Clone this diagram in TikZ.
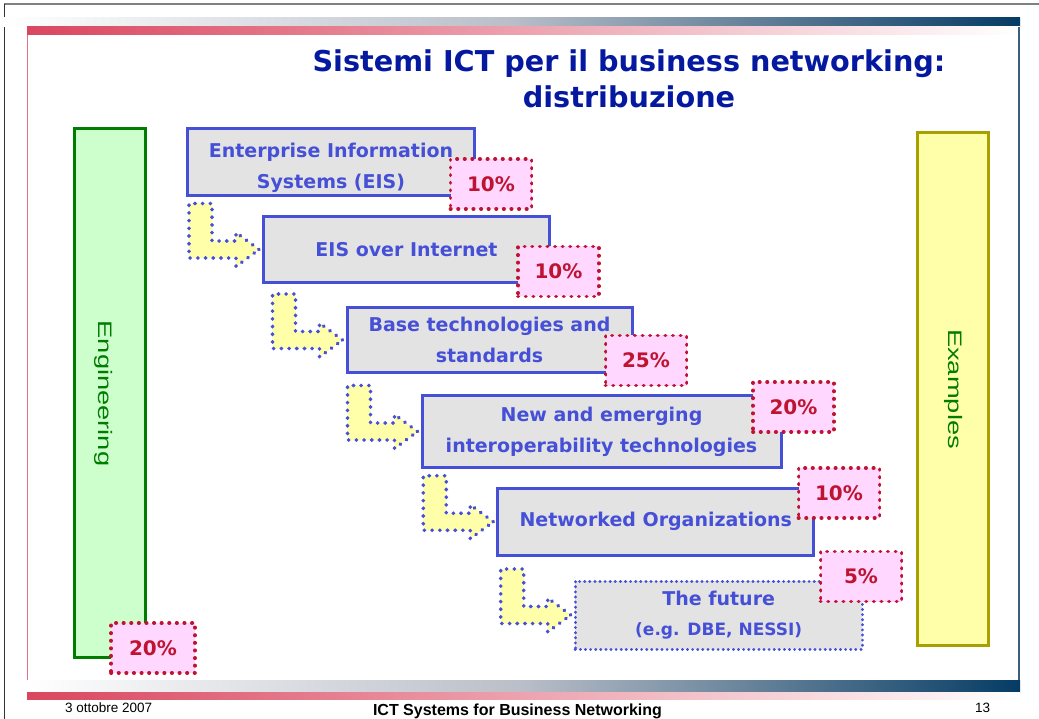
\documentclass[tikz,border=0pt]{standalone}
\usepackage{fontspec}
\usepackage{graphicx}
\setmainfont{DejaVu Sans}
\newfontfamily\arialfont{Liberation Sans}
\usetikzlibrary{calc}

\definecolor{titleblue}{RGB}{5,25,160}
\definecolor{boxblue}{RGB}{70,80,215}
\definecolor{boxgray}{RGB}{227,227,227}
\definecolor{pctred}{RGB}{190,20,50}
\definecolor{pctpink}{RGB}{255,215,255}
\definecolor{arwyellow}{RGB}{255,255,170}
\definecolor{enggreen}{RGB}{0,125,0}
\definecolor{engfill}{RGB}{204,255,204}
\definecolor{exolive}{RGB}{168,160,0}
\definecolor{barred}{RGB}{218,70,95}
\definecolor{barnavy}{RGB}{5,60,100}
\definecolor{bargray}{RGB}{185,190,200}

\tikzset{
  blk/.style={draw=boxblue, line width=3pt, fill=boxgray, text=boxblue, inner sep=0pt,
    align=center, font=\bfseries\fontsize{19}{31}\selectfont},
  pct/.style={draw=pctred, fill=pctpink, text=pctred, line width=3.8pt, line cap=round,
    dash pattern=on 0.3pt off 7.3pt, minimum width=81pt, minimum height=50pt, inner sep=0pt,
    font=\bfseries\fontsize{20}{24}\selectfont},
  arw/.style={draw=boxblue, fill=arwyellow, line width=3.8pt, line cap=round,
    dash pattern=on 0.3pt off 7.4pt},
  sidebox/.style={line width=3pt, inner sep=0pt, minimum width=71pt},
  sidetext/.style={rotate=-90, inner sep=0pt, text=enggreen,
    font=\arialfont\fontsize{19.5}{24}\selectfont}
}

% bent arrow ending just left of a box
\newcommand{\bendarrow}[1]{%
  \draw[arw, shift={($(#1.west)+(-3,0)$)}] (0,0) -- (-23,-17) -- (-23,-8.5) -- (-47,-8.5)
    -- (-47,-46) -- (-70,-46) -- (-70,8.5) -- (-23,8.5) -- (-23,17) -- cycle;}

\begin{document}
\begin{tikzpicture}[x=1pt,y=-1pt]
\useasboundingbox (0,0) rectangle (1039,719);

% slide frame
\draw[gray, line width=1.5pt] (4,4) -- (1039,4);
\draw[black!80, line width=1.5pt] (4.5,4) -- (4.5,719);
\shade[left color=white, right color=barnavy, middle color=bargray] (4,18) rectangle (1020,27);
\shade[left color=barred, right color=white] (27,27) rectangle (1020,35);
\draw[line width=1.5pt, color={rgb,255:red,225;green,115;blue,135}] (27.5,35) -- (27.5,692);
\draw[line width=1.5pt, color={rgb,255:red,60;green,95;blue,125}] (1019,27) -- (1019,680);
\shade[left color=white, right color=barnavy, middle color=bargray] (27,680) rectangle (1020,692);
\shade[left color=barred, right color=white] (27,692) rectangle (1020,699);

% title
\node[text=titleblue, align=center, font=\bfseries\fontsize{28.7}{36}\selectfont] (title) at (629,79)
  {Sistemi ICT per il business networking:\\distribuzione};

% side columns
\node[sidebox, draw=enggreen, fill=engfill, minimum height=529pt] (eng) at (110,393) {};
\node[sidetext] (engt) at ($(eng.center)+(-6,0.5)$) {\scalebox{1.4}[1]{Engineering}};
\node[sidebox, draw=exolive, fill=arwyellow, minimum height=513pt] (ex) at (952.5,389) {};
\node[sidetext] (ext) at ($(ex.center)+(1.5,0)$) {\scalebox{1.4}[1]{Examples}};

% steps
\node[blk, minimum width=287pt, minimum height=67pt] (b1) at (331,162)
  {\rule{0pt}{27pt}Enterprise Information\\Systems (EIS)};
\node[blk, minimum width=286pt, minimum height=66pt] (b2) at (406.5,249.5) {EIS over Internet};
\node[blk, minimum width=285pt, minimum height=65pt] (b3) at (489.5,340)
  {Base technologies and\\standards};
\node[blk, minimum width=359pt, minimum height=72pt] (b4) at (601.5,431.5)
  {New and emerging\\interoperability technologies};
\node[blk, minimum width=316pt, minimum height=67pt] (b5) at (655.75,521.75) {Networked Organizations};
\node[blk, line width=3pt, line cap=round, dash pattern=on 0.2pt off 4.9pt,
  minimum width=287pt, minimum height=68pt, font=\bfseries\fontsize{19}{30}\selectfont] (b6) at (718.7,615)
  {The future\\{\fontsize{17}{18}\selectfont (e.g. DBE, NESSI)}};

\bendarrow{b2}
\bendarrow{b3}
\bendarrow{b4}
\bendarrow{b5}
\bendarrow{b6}

% shares
\node[pct] (p1) at (491,184) {10\%};
\node[pct] (p2) at (558.5,271.5) {10\%};
\node[pct] (p3) at (646,360.5) {25\%};
\node[pct] (p4) at (793.5,407) {20\%};
\node[pct] (p5) at (839,493) {10\%};
\node[pct] (p6) at (861,576.5) {5\%};
\node[pct, minimum width=84pt] (p7) at (153,648) {20\%};

% footer
\node[anchor=base west, inner sep=0pt, font=\arialfont\fontsize{13.5}{16}\selectfont] (date) at (65,712.5) {3 ottobre 2007};
\node[anchor=base, inner sep=0pt, font=\arialfont\bfseries\fontsize{16}{19}\selectfont] (foot) at (517.5,715) {ICT Systems for Business Networking};
\node[anchor=base, inner sep=0pt, font=\arialfont\fontsize{13.5}{16}\selectfont] (page) at (982.5,712) {13};
\end{tikzpicture}
\end{document}
